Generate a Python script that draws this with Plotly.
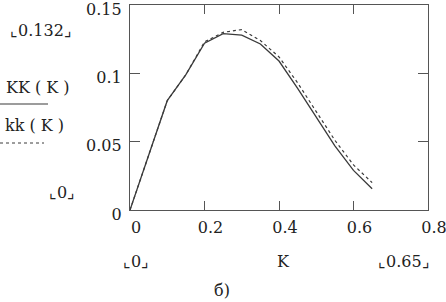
import plotly.graph_objects as go

K = [0, 0.05, 0.1, 0.15, 0.2, 0.25, 0.3, 0.35, 0.4, 0.45, 0.5, 0.55, 0.6, 0.65]
KK = [0, 0.040, 0.080, 0.099, 0.122, 0.129, 0.128, 0.1215, 0.109, 0.089, 0.068, 0.047, 0.029, 0.0155]
kk = [0, 0.040, 0.080, 0.099, 0.123, 0.130, 0.132, 0.124, 0.112, 0.093, 0.072, 0.051, 0.033, 0.020]

x_ticks = [0, 0.2, 0.4, 0.6, 0.8]
x_text = ["0", "0.2", "0.4", "0.6", "0.8"]
y_ticks = [0, 0.05, 0.1, 0.15]
y_text = ["0", "0.05", "0.1", "0.15"]

W, H = 446, 302
L, R, T, B = 130, 428, 5, 210
FONT = "DejaVu Serif"
FS = 16
COL = "#3a3a3a"


def px(x):
    return (x - L) / (R - L)


def py(y):
    return (B - y) / (B - T)


fig = go.Figure()
fig.add_trace(go.Scatter(x=K, y=KK, mode="lines", line=dict(color=COL, width=1.3), showlegend=False))
fig.add_trace(go.Scatter(x=K, y=kk, mode="lines", line=dict(color=COL, width=1.2, dash="3px,3px"), showlegend=False))

fig.update_layout(
    width=W, height=H,
    margin=dict(l=L, r=W - R, t=T, b=H - B, autoexpand=False),
    paper_bgcolor="white", plot_bgcolor="white",
    font=dict(family=FONT, size=FS, color="#222"),
    xaxis=dict(range=[0, 0.8], tickvals=x_ticks, ticktext=x_text, ticks="inside", ticklen=9,
               tickcolor="#555", showline=True, linecolor="#555", linewidth=1.2, mirror="ticks",
               showgrid=False, zeroline=False, ticklabelstandoff=3, ticklabelshift=6,
               ticklabeloverflow="allow", automargin=False),
    yaxis=dict(range=[0, 0.15], tickvals=y_ticks, ticktext=y_text, ticks="inside", ticklen=10,
               tickcolor="#555", showline=True, linecolor="#555", linewidth=1.2, mirror="ticks",
               showgrid=False, zeroline=False, ticklabelstandoff=4, ticklabelshift=4,
               ticklabeloverflow="allow", automargin=False),
)

def ann(text, x, y, anchor="center", size=FS):
    fig.add_annotation(text=text, x=px(x), y=py(y), xref="paper", yref="paper",
                       showarrow=False, xanchor=anchor, yanchor="middle",
                       font=dict(family=FONT, size=size, color="#222"))

ann("⌞0.132⌟", 41, 30)
ann("KK ( K )", 38, 87)
ann("kk ( K )", 34, 125)
ann("⌞0⌟", 62, 192)
ann("⌞0⌟", 136, 261)
ann("K", 283, 261)
ann("⌞0.65⌟", 404, 261)
ann("б)", 222, 290)

fig.add_shape(type="line", xref="paper", yref="paper", x0=px(0), x1=px(48), y0=py(104), y1=py(104),
              line=dict(color=COL, width=1.2))
fig.add_shape(type="line", xref="paper", yref="paper", x0=px(0), x1=px(44), y0=py(143), y1=py(143),
              line=dict(color=COL, width=1, dash="3px,3px"))

fig.write_html("out.html", config={"displayModeBar": False},
               post_script="document.body.style.margin='0';document.body.style.padding='0';")
